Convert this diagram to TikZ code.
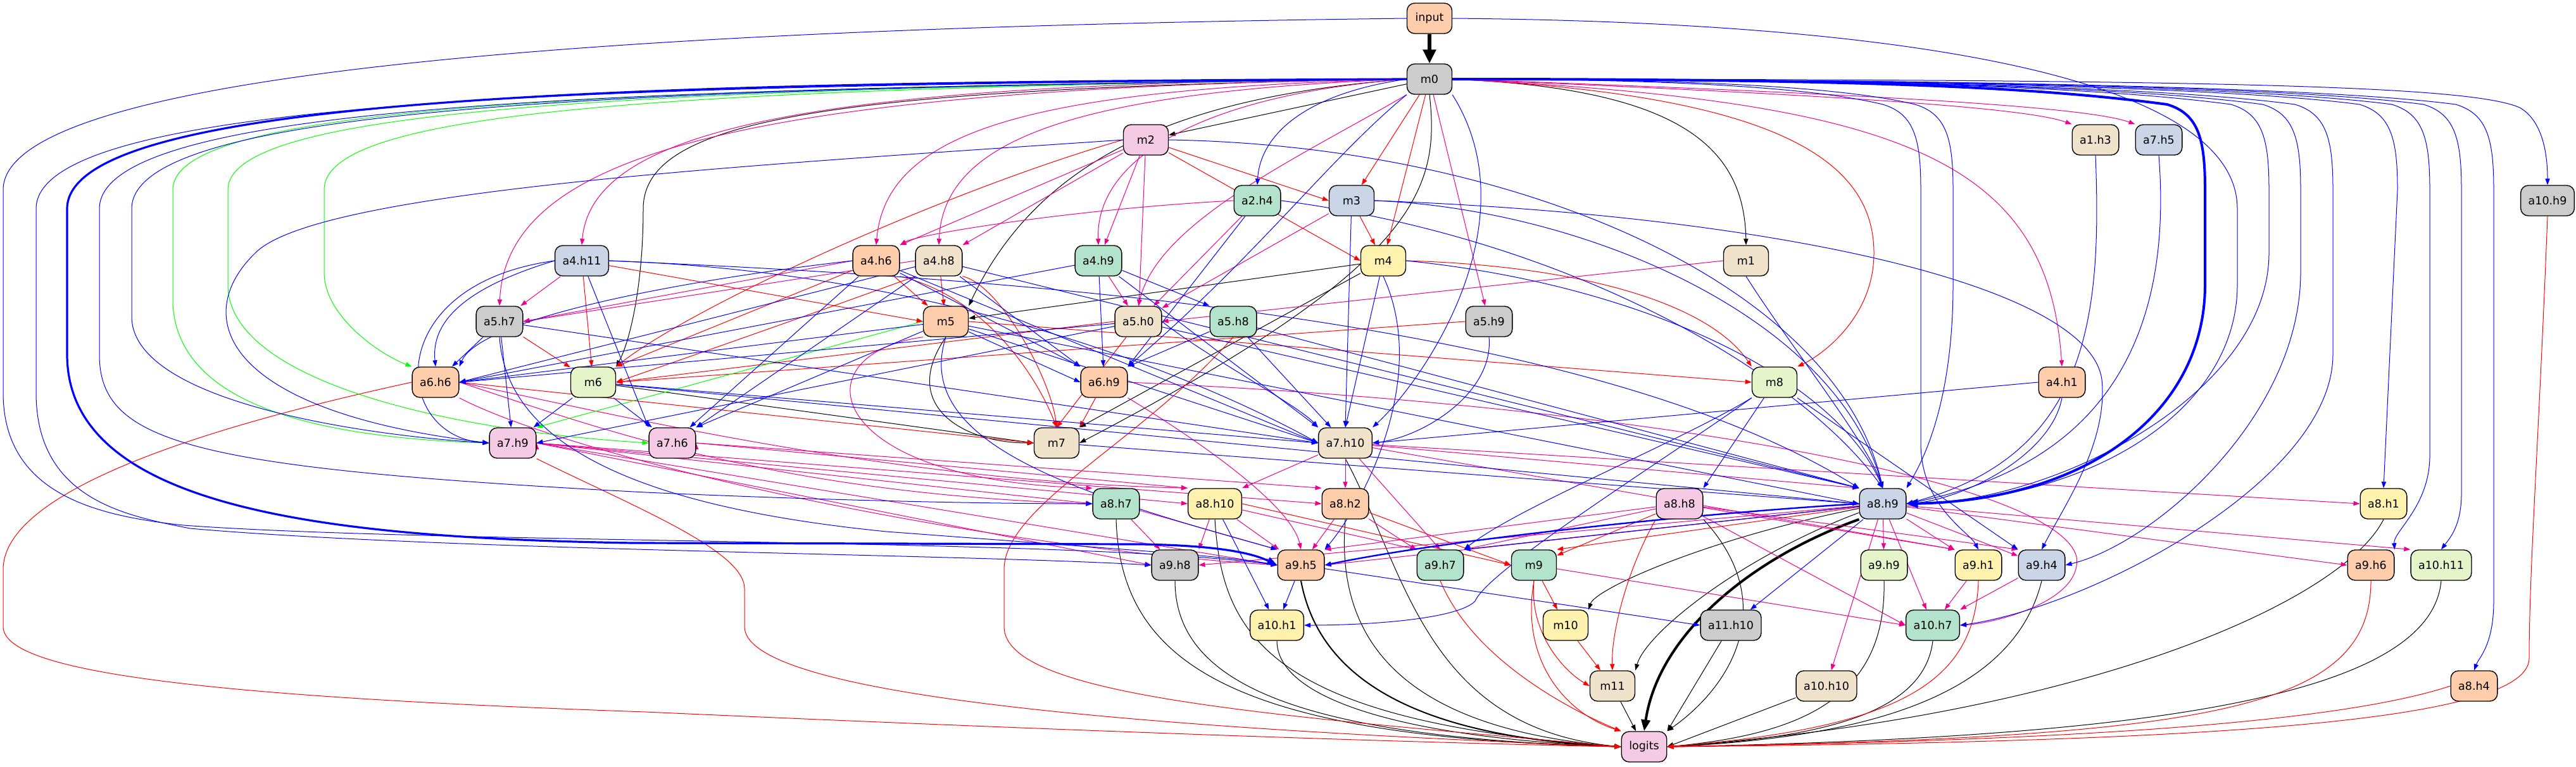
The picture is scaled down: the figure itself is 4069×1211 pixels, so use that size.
\documentclass[tikz,border=0pt]{standalone}
\usepackage{fontspec}
\setmainfont{DejaVu Sans}
\usepackage{xcolor}
\definecolor{PastelGreen}{HTML}{B3E2CD}
\definecolor{PastelOrange}{HTML}{FDCDAC}
\definecolor{PastelBlue}{HTML}{CBD5E8}
\definecolor{PastelPink}{HTML}{F4CAE4}
\definecolor{PastelLime}{HTML}{E6F5C9}
\definecolor{PastelYellow}{HTML}{FFF2AE}
\definecolor{PastelTan}{HTML}{F1E2CC}
\definecolor{PastelGrey}{HTML}{CCCCCC}
\usepackage{tikz}
\usetikzlibrary{arrows.meta}
\pgfdeclarelayer{wires}
\pgfsetlayers{wires,main}
\tikzstyle{unit}=[rectangle,rounded corners=6pt,draw=black,line width=0.7pt,
                  minimum height=24pt,minimum width=35.5pt,inner xsep=6pt,
                  font=\fontsize{8.75pt}{10pt}\selectfont]
\tikzstyle{wire}=[line width=0.5pt,-{Triangle[length=5pt,width=3.6pt]}]
\tikzstyle{kwire}=[wire,color=black]
\tikzstyle{qwire}=[wire,color=blue]
\tikzstyle{rwire}=[wire,color=red]
\tikzstyle{vwire}=[wire,color=magenta]
\tikzstyle{gwire}=[wire,color=green]
\tikzstyle{fat}=[line width=2pt,-{Triangle[length=9pt,width=7pt]}]

\begin{document}
\begin{tikzpicture}[x=0.5pt,y=-0.5pt]
      \useasboundingbox (0,0) rectangle (4069,1211);
      \node[unit,fill=PastelOrange] (input) at (2258,29) {input};
      \node[unit,fill=PastelGrey] (m0) at (2258,125) {m0};
      \node[unit,fill=PastelPink] (m2) at (1810,221) {m2};
      \node[unit,fill=PastelTan] (a1h3) at (3310,221) {a1.h3};
      \node[unit,fill=PastelBlue] (a7h5) at (3410,221) {a7.h5};
      \node[unit,fill=PastelGreen] (a2h4) at (1986,317) {a2.h4};
      \node[unit,fill=PastelBlue] (m3) at (2135,317) {m3};
      \node[unit,fill=PastelGrey] (a10h9) at (4024,317) {a10.h9};
      \node[unit,fill=PastelBlue] (a4h11) at (919,412) {a4.h11};
      \node[unit,fill=PastelOrange] (a4h6) at (1384,412) {a4.h6};
      \node[unit,fill=PastelTan] (a4h8) at (1483,412) {a4.h8};
      \node[unit,fill=PastelGreen] (a4h9) at (1735,412) {a4.h9};
      \node[unit,fill=PastelYellow] (m4) at (2185,412) {m4};
      \node[unit,fill=PastelTan] (m1) at (2758,412) {m1};
      \node[unit,fill=PastelGrey] (a5h7) at (789,508) {a5.h7};
      \node[unit,fill=PastelOrange] (m5) at (1494,508) {m5};
      \node[unit,fill=PastelTan] (a5h0) at (1798,508) {a5.h0};
      \node[unit,fill=PastelGreen] (a5h8) at (1948,508) {a5.h8};
      \node[unit,fill=PastelGrey] (a5h9) at (2352,508) {a5.h9};
      \node[unit,fill=PastelOrange] (a6h6) at (688,604) {a6.h6};
      \node[unit,fill=PastelLime] (m6) at (937,604) {m6};
      \node[unit,fill=PastelOrange] (a6h9) at (1744,604) {a6.h9};
      \node[unit,fill=PastelLime] (m8) at (2803,604) {m8};
      \node[unit,fill=PastelOrange] (a4h1) at (3257,604) {a4.h1};
      \node[unit,fill=PastelPink] (a7h9) at (810,700) {a7.h9};
      \node[unit,fill=PastelPink] (a7h6) at (1062,700) {a7.h6};
      \node[unit,fill=PastelTan] (m7) at (1669,700) {m7};
      \node[unit,fill=PastelTan] (a7h10) at (2125,700) {a7.h10};
      \node[unit,fill=PastelGreen] (a8h7) at (1763,796) {a8.h7};
      \node[unit,fill=PastelYellow] (a8h10) at (1919,796) {a8.h10};
      \node[unit,fill=PastelOrange] (a8h2) at (2125,796) {a8.h2};
      \node[unit,fill=PastelPink] (a8h8) at (2653,796) {a8.h8};
      \node[unit,fill=PastelBlue] (a8h9) at (2974,796) {a8.h9};
      \node[unit,fill=PastelYellow] (a8h1) at (3765,796) {a8.h1};
      \node[unit,fill=PastelGrey] (a9h8) at (1856,893) {a9.h8};
      \node[unit,fill=PastelOrange] (a9h5) at (2055,893) {a9.h5};
      \node[unit,fill=PastelGreen] (a9h7) at (2275,893) {a9.h7};
      \node[unit,fill=PastelGreen] (m9) at (2423,893) {m9};
      \node[unit,fill=PastelLime] (a9h9) at (2976,893) {a9.h9};
      \node[unit,fill=PastelYellow] (a9h1) at (3125,893) {a9.h1};
      \node[unit,fill=PastelBlue] (a9h4) at (3225,893) {a9.h4};
      \node[unit,fill=PastelOrange] (a9h6) at (3745,893) {a9.h6};
      \node[unit,fill=PastelLime] (a10h11) at (3856,893) {a10.h11};
      \node[unit,fill=PastelYellow] (a10h1) at (2017,988) {a10.h1};
      \node[unit,fill=PastelYellow] (m10) at (2473,988) {m10};
      \node[unit,fill=PastelGrey] (a11h10) at (2734,988) {a11.h10};
      \node[unit,fill=PastelGreen] (a10h7) at (3053,988) {a10.h7};
      \node[unit,fill=PastelTan] (m11) at (2547,1084) {m11};
      \node[unit,fill=PastelTan] (a10h10) at (2885,1084) {a10.h10};
      \node[unit,fill=PastelOrange] (a8h4) at (3908,1084) {a8.h4};
      \node[unit,fill=PastelPink] (logits) at (2597,1180) {logits};
      \begin{pgfonlayer}{wires}
      % black
      \draw[kwire,line width=3pt,-{Triangle[length=11pt,width=10pt]}] (input) -- (m0);
      \draw[kwire] (m0) -- (m2);
      \draw[kwire] (m0.east) .. controls (2650,140) and (2755,230) .. (m1.north);
      \draw[kwire] (m0.west) .. controls (1900,150) and (1650,230) .. (m5.north east);
      \draw[kwire] (m0.west) .. controls (1300,140) and (1016,190) .. (1016,330) .. controls (1016,450) and (995,540) .. (m6.north east);
      \draw[kwire] (m0.south) .. controls (2275,300) and (2240,420) .. (m7.east);
      \draw[kwire] (m4) edge (m5) edge (m7.north east);
      \draw[kwire] (m5.south) .. controls (1420,640) and (1520,700) .. (m7.west);
      \draw[kwire] (m6) -- (m7.west);
      \draw[kwire] (a8h9) .. controls (2700,850) and (2520,930) .. (m10.north east);
      \draw[kwire] (a8h9) .. controls (2750,880) and (2600,1000) .. (m11.north east);
      \draw[kwire,fat] (a8h9.south west) .. controls (2770,880) and (2620,1000) .. (logits.north);
      \draw[kwire] (a8h7.south) .. controls (1770,1050) and (1950,1165) .. (logits.west);
      \draw[kwire] (a9h8.south) .. controls (1856,1080) and (2050,1165) .. (logits.west);
      \draw[kwire] (a8h10.south) .. controls (1930,1000) and (2000,1140) .. (logits.west);
      \draw[kwire] (a10h1.south) .. controls (2017,1100) and (2200,1165) .. (logits.west);
      \draw[kwire,line width=1pt] (a9h5.south) .. controls (2085,1080) and (2250,1165) .. (logits.west);
      \draw[kwire] (a8h2.south) .. controls (2110,1000) and (2200,1150) .. (logits.west);
      \draw[kwire] (a7h10.south) .. controls (2220,900) and (2250,1150) .. (logits.west);
      \draw[kwire] (m11) -- (logits);
      \draw[kwire] (a11h10) -- (logits.north east);
      \draw[kwire] (a10h10) -- (logits.east);
      \draw[kwire] (a8h8.south east) .. controls (2810,950) and (2740,1080) .. (logits.north east);
      \draw[kwire] (a9h9.south) .. controls (2980,1100) and (2850,1160) .. (logits.east);
      \draw[kwire] (a10h7.south) .. controls (3040,1120) and (2900,1165) .. (logits.east);
      \draw[kwire] (a9h4.south) .. controls (3180,1100) and (2950,1165) .. (logits.east);
      \draw[kwire] (a8h1.south) .. controls (3700,950) and (3300,1130) .. (logits.east);
      \draw[kwire] (a10h11.south) .. controls (3840,1100) and (3400,1165) .. (logits.east);
      % red
      \draw[rwire] (m0) edge (m3) edge (m4);
      \draw[rwire] (m2) edge (m3.west) edge (m4.west);
      \draw[rwire] (m3) -- (m4);
      \draw[rwire] (m0.east) .. controls (2800,150) and (2960,250) .. (2960,400) .. controls (2960,500) and (2880,560) .. (m8.north east);
      \draw[rwire] (m4.east) .. controls (2500,420) and (2700,480) .. (m8.north west);
      \draw[rwire] (m5.east) -- (m8.west);
      \draw[rwire] (m2.west) .. controls (1500,300) and (1100,480) .. (m6.north east);
      \draw[rwire] (a4h11) edge (m5.west) edge (m6);
      \draw[rwire] (a4h6) edge (m5) edge (m6.north east);
      \draw[rwire] (a4h8) -- (m5);
      \draw[rwire] (a4h8.south west) .. controls (1300,490) and (1100,560) .. (m6.east);
      \draw[rwire] (a5h7) -- (m6);
      \draw[rwire] (a5h0.west) -- (m6.east);
      \draw[rwire] (a5h9.west) -- (m6.east);
      \draw[rwire] (a4h6.south east) .. controls (1560,470) and (1640,600) .. (m7.north);
      \draw[rwire] (a4h8.south east) .. controls (1580,450) and (1660,600) .. (m7.north);
      \draw[rwire] (a5h0) -- (m7.north);
      \draw[rwire] (a6h9) -- (m7.north east);
      \draw[rwire] (a6h6.east) -- (m7.west);
      \draw[rwire] (a6h6.west) .. controls (300,680) and (5,780) .. (5,900) -- (5,990) .. controls (5,1060) and (300,1100) .. (1020,1125) .. controls (1800,1160) and (2300,1175) .. (logits.west);
      \draw[rwire] (a7h9.south east) .. controls (1000,800) and (1176,870) .. (1176,930) -- (1176,990) .. controls (1176,1100) and (1800,1150) .. (logits.west);
      \draw[rwire] (a5h8.south) .. controls (1800,700) and (1586,800) .. (1586,900) -- (1586,990) .. controls (1586,1100) and (2000,1130) .. (logits.west);
      \draw[rwire] (a9h7.south) .. controls (2330,1050) and (2500,1130) .. (logits.north west);
      \draw[rwire] (m9.south) .. controls (2400,1050) and (2480,1130) .. (logits.north west);
      \draw[rwire] (m9.south) .. controls (2415,1000) and (2470,1060) .. (m11.west);
      \draw[rwire] (m9) -- (m10);
      \draw[rwire] (m10) -- (m11);
      \draw[rwire] (a8h8.south west) .. controls (2570,900) and (2545,1000) .. (m11.north);
      \draw[rwire] (a8h8) -- (m9);
      \draw[rwire] (a8h9) -- (m9.north east);
      \draw[rwire] (a8h2) -- (m9.west);
      \draw[rwire] (a8h10.east) -- (m9.west);
      \draw[rwire] (a9h1.south) .. controls (3120,1080) and (3000,1150) .. (logits.east);
      \draw[rwire] (a9h6.south) .. controls (3745,1120) and (3500,1165) .. (logits.east);
      \draw[rwire] (a8h4.west) .. controls (3700,1140) and (3300,1170) .. (logits.east);
      \draw[rwire] (a10h9.south) .. controls (4010,700) and (3995,900) .. (3995,1040) .. controls (3995,1140) and (3500,1172) .. (logits.east);
      % magenta
      \draw[vwire] (m0.west) .. controls (1650,140) and (1400,200) .. (a4h6.north);
      \draw[vwire] (m0.west) .. controls (1700,145) and (1490,220) .. (a4h8.north);
      \draw[vwire] (m0.west) .. controls (1900,150) and (1730,250) .. (a4h9.north);
      \draw[vwire] (m0.west) .. controls (1300,130) and (935,200) .. (a4h11.north);
      \draw[vwire] (m0.west) .. controls (1150,140) and (800,250) .. (a5h7.north);
      \draw[vwire] (m0.south west) .. controls (2050,250) and (1830,350) .. (a5h0.north);
      \draw[vwire] (m0) -- (a5h9);
      \draw[vwire] (m0.east) .. controls (2900,150) and (3200,170) .. (a1h3.north west);
      \draw[vwire] (m0.east) .. controls (3000,150) and (3300,170) .. (a7h5.north west);
      \draw[vwire] (m0.east) .. controls (3000,160) and (3235,250) .. (a4h1.north);
      \draw[vwire] (m2) edge (a4h6.north east) edge (a4h8.north east) edge (a4h9) edge (a5h0);
      \draw[vwire] (a2h4.west) .. controls (1700,330) and (1450,370) .. (a4h6.north east);
      \draw[vwire] (a2h4) -- (a5h0);
      \draw[vwire] (m3) -- (a5h0);
      \draw[vwire] (m1.west) -- (a5h0.east);
      \draw[vwire] (a4h9) -- (a5h0);
      \draw[vwire] (a4h11) -- (a5h7);
      \draw[vwire] (a4h6.west) -- (a5h7.east);
      \draw[vwire] (a4h8.west) -- (a5h7.east);
      \draw[vwire] (a6h6.east) .. controls (900,660) and (1200,780) .. (a8h7.west);
      \draw[vwire] (a6h6.east) .. controls (950,650) and (1400,760) .. (a8h10.north west);
      \draw[vwire] (a6h6.south east) .. controls (900,720) and (1500,860) .. (a9h5.west);
      \draw[vwire] (a7h9.east) edge (a8h7.west) edge (a8h10.west) edge (a8h2.west) edge (a9h5.west) edge (a9h8.west);
      \draw[vwire] (a7h6.east) edge (a8h10.north west) edge (a8h2.north west);
      \draw[vwire] (m5.south west) .. controls (1260,560) and (1300,760) .. (a8h7.north west);
      \draw[vwire] (a6h9.south east) .. controls (1900,700) and (2040,800) .. (a9h5.north);
      \draw[vwire] (a6h9.east) .. controls (2600,640) and (3250,760) .. (3280,880) .. controls (3290,950) and (3150,985) .. (a10h7.east);
      \draw[vwire] (a7h10) edge (a8h2) edge (a8h10.north east) edge (a8h9.north west) edge (a9h7.north) edge (a8h1.west) edge (a9h1.north west);
      \draw[vwire] (a8h7) edge (a9h8) edge (a9h5.north west);
      \draw[vwire] (a8h10) edge (a9h8.north east) edge (a9h5) edge (a9h7.north west);
      \draw[vwire] (a8h2) edge (a9h5) edge (a9h7);
      \draw[vwire] (a8h8) edge (a9h5.north east) edge (a9h7.north east) edge (a9h1.north west) edge (a10h7.west) edge (a9h4.north west);
      \draw[vwire] (a8h9) edge (a9h5.east) edge (a9h7.north east) edge (a9h9) edge (a9h1) edge (a9h4) edge (a10h7) edge (a10h10) edge (a9h6.west) edge (a10h11.north west) edge (a9h8.east);
      \draw[vwire] (m9) -- (a10h7.west);
      \draw[vwire] (a9h1) -- (a10h7);
      \draw[vwire] (a9h4) -- (a10h7.north east);
      % green
      \draw[gwire] (m0.west) .. controls (1000,140) and (512,180) .. (512,300) -- (512,430) .. controls (512,500) and (600,560) .. (a6h6.north west);
      \draw[gwire] (m0.west) .. controls (900,140) and (273,170) .. (273,300) -- (273,480) .. controls (280,620) and (450,690) .. (a7h9.west);
      \draw[gwire] (m0.west) .. controls (950,140) and (360,175) .. (360,300) -- (360,450) .. controls (360,600) and (700,680) .. (a7h6.west);
      \draw[gwire] (m5.west) -- (a7h9.north east);
      % blue
      \draw[qwire] (m0.west) .. controls (2050,150) and (1990,220) .. (a2h4.north);
      \draw[qwire] (m0.south west) .. controls (2100,250) and (1990,400) .. (a6h9.north east);
      \draw[qwire] (m0.south east) .. controls (2420,350) and (2250,600) .. (a7h10.north east);
      \draw[qwire] (m0.east) .. controls (3500,125) and (3900,135) .. (3980,170) .. controls (4015,190) and (4024,240) .. (a10h9.north);
      \draw[qwire] (m0.east) .. controls (2900,125) and (3500,135) .. (3727,165) .. controls (3777,180) and (3787,220) .. (3787,300) -- (a8h1.north);
      \draw[qwire] (m0.east) .. controls (3000,125) and (3650,135) .. (3879,165) .. controls (3929,180) and (3939,220) .. (3939,300) -- (3939,950) .. controls (3939,1020) and (3915,1040) .. (a8h4.north);
      \draw[qwire] (m0.east) .. controls (3000,125) and (3600,135) .. (3828,165) .. controls (3878,180) and (3888,220) .. (3888,300) -- (3888,780) .. controls (3888,830) and (3870,850) .. (a10h11.north);
      \draw[qwire] (m0.east) .. controls (2950,125) and (3550,135) .. (3778,165) .. controls (3828,180) and (3838,220) .. (3838,300) -- (3838,720) .. controls (3838,800) and (3780,840) .. (a9h6.north east);
      \draw[qwire] (m0.east) .. controls (2900,125) and (3400,135) .. (3625,165) .. controls (3675,180) and (3685,220) .. (3685,300) -- (3685,560) .. controls (3685,760) and (3300,960) .. (a10h7.east);
      \draw[qwire] (m0.east) .. controls (2900,125) and (3350,135) .. (3574,165) .. controls (3624,180) and (3634,220) .. (3634,300) -- (3634,430) .. controls (3634,660) and (3400,860) .. (a9h4.east);
      \draw[qwire,fat] (m0.east) .. controls (2900,125) and (3200,135) .. (3423,165) .. controls (3473,180) and (3483,220) .. (3483,300) -- (3483,450) .. controls (3483,650) and (3300,790) .. (a8h9.east);
      \draw[qwire] (m0.east) .. controls (2900,125) and (3300,135) .. (3524,165) .. controls (3574,180) and (3584,220) .. (3584,300) -- (3584,400) .. controls (3584,620) and (3250,795) .. (a8h9.east);
      \draw[qwire] (input.east) .. controls (3000,35) and (3534,120) .. (3534,330) -- (3534,450) .. controls (3534,650) and (3300,792) .. (a8h9.east);
      \draw[qwire] (m0.east) .. controls (2600,125) and (2850,135) .. (2974,165) .. controls (3024,180) and (3034,220) .. (3034,300) -- (3034,700) .. controls (3034,800) and (3110,840) .. (a9h1.north);
      \draw[qwire] (m0.east) .. controls (2650,125) and (2900,135) .. (3025,165) .. controls (3075,180) and (3085,220) .. (3085,300) -- (3085,450) .. controls (3085,650) and (3030,740) .. (a8h9.north east);
      \draw[qwire] (a1h3.south) .. controls (3320,500) and (3300,720) .. (a8h9.east);
      \draw[qwire] (a7h5.south) .. controls (3430,500) and (3350,730) .. (a8h9.east);
      \draw[qwire] (a4h1.south) .. controls (3240,720) and (3100,790) .. (a8h9.east);
      \draw[qwire] (a4h1.west) -- (a7h10.east);
      \draw[qwire] (input.west) .. controls (900,45) and (5,120) .. (5,300) -- (5,620) .. controls (5,780) and (150,815) .. (290,830) .. controls (700,860) and (1700,850) .. (a9h5.west);
      \draw[qwire,line width=1.6pt,-{Triangle[length=8pt,width=6pt]}] (m0.west) .. controls (1000,130) and (106,150) .. (106,330) -- (106,560) .. controls (106,800) and (500,850) .. (1000,858) -- (1800,860) .. controls (1950,862) and (1990,880) .. (a9h5.west);
      \draw[qwire] (m0.west) .. controls (1000,135) and (57,150) .. (57,330) -- (57,620) .. controls (57,790) and (200,815) .. (300,835) .. controls (700,870) and (1500,875) .. (a9h8.west);
      \draw[qwire] (m0.west) .. controls (1000,140) and (157,160) .. (157,330) -- (157,560) .. controls (157,700) and (300,740) .. (1020,778) .. controls (1400,795) and (1650,796) .. (a8h7.west);
      \draw[qwire] (m0.west) .. controls (1000,140) and (208,165) .. (208,330) -- (208,500) .. controls (208,640) and (600,690) .. (a7h9.west);
      \draw[qwire] (m2.west) .. controls (1200,260) and (500,300) .. (403,400) .. controls (300,500) and (350,650) .. (a7h9.west);
      \draw[qwire] (m2.east) .. controls (2400,230) and (2900,450) .. (a8h9.north);
      \draw[qwire] (a2h4.east) .. controls (2500,380) and (2850,600) .. (a8h9.north);
      \draw[qwire] (a2h4) -- (a6h9.north east);
      \draw[qwire] (m3) -- (a7h10.north);
      \draw[qwire] (m3.east) .. controls (2500,330) and (2900,500) .. (a8h9.north);
      \draw[qwire] (m3.east) .. controls (2800,340) and (3300,450) .. (3320,600) .. controls (3330,700) and (3260,800) .. (a9h4.north);
      \draw[qwire] (m4) -- (a7h10.north);
      \draw[qwire] (m4.east) .. controls (2600,450) and (2900,600) .. (a8h9.north);
      \draw[qwire] (m4.south) .. controls (2260,600) and (2150,800) .. (a9h5.north east);
      \draw[qwire] (m1.south) .. controls (2830,550) and (2950,700) .. (a8h9.north);
      \draw[qwire] (a5h9.south) .. controls (2360,620) and (2250,690) .. (a7h10.east);
      \draw[qwire] (a4h11.west) .. controls (750,450) and (680,500) .. (a6h6.north);
      \draw[qwire] (a4h11.west) .. controls (600,450) and (620,690) .. (a7h9.west);
      \draw[qwire] (a4h11) -- (a7h6.north west);
      \draw[qwire] (a4h11.east) .. controls (1500,430) and (1900,600) .. (a7h10.west);
      \draw[qwire] (a4h11.east) .. controls (1600,440) and (2500,500) .. (a8h9.north west);
      \draw[qwire] (a5h7) edge (a6h6) edge (a7h9) edge (a7h10.west);
      \draw[qwire] (a5h7.south) .. controls (800,700) and (1000,800) .. (1400,840) .. controls (1800,870) and (1950,880) .. (a9h5.west);
      \draw[qwire] (a4h6.west) .. controls (1100,440) and (760,500) .. (a6h6.north east);
      \draw[qwire] (a4h6) edge (a7h6) edge (a6h9.north west) edge (a7h10.west);
      \draw[qwire] (a4h8) edge (a6h6.east) edge (a7h6.north east) edge (a6h9.north west) edge (a8h9.north west);
      \draw[qwire] (a4h9) edge (a5h8.north west) edge (a6h9) edge (a7h10.north west) edge (a6h6.east);
      \draw[qwire] (m5) edge (a6h6.east) edge (a7h6.north east) edge (a6h9.west) edge (a7h10.west) edge (a8h9.west);
      \draw[qwire] (m5.south) .. controls (1440,700) and (1700,780) .. (a9h5.north west);
      \draw[qwire] (a5h0) edge (a6h6.east) edge (a7h9.east) edge (a8h9.north west);
      \draw[qwire] (a5h0.east) .. controls (1900,560) and (2050,640) .. (a7h10.north west);
      \draw[qwire] (a5h8) edge (a6h9.north east) edge (a7h10) edge (a8h9.north west);
      \draw[qwire] (m6) edge (a7h9) edge (a7h6) edge (a7h10.west) edge (a8h9.west);
      \draw[qwire] (m7) -- (a8h9.west);
      \draw[qwire] (m8) edge (a8h8.north east) edge (a9h4.north west);
      \draw[qwire] (m8.south west) .. controls (2650,700) and (2400,800) .. (a9h7.north east);
      \draw[qwire] (m8.south west) .. controls (2640,720) and (2350,900) .. (2330,950) .. controls (2300,980) and (2150,988) .. (a10h1.east);
      \draw[qwire] (a8h10) -- (a10h1);
      \draw[qwire] (a9h5) edge (a10h1) edge (a11h10.west);
      \draw[qwire] (a8h9) edge (a11h10) edge (a9h7.north east);
      \draw[qwire,line width=1.2pt] (a8h9.west) .. controls (2700,810) and (2300,850) .. (a9h5.east);
      \end{pgfonlayer}
   \end{tikzpicture}
\end{document}
